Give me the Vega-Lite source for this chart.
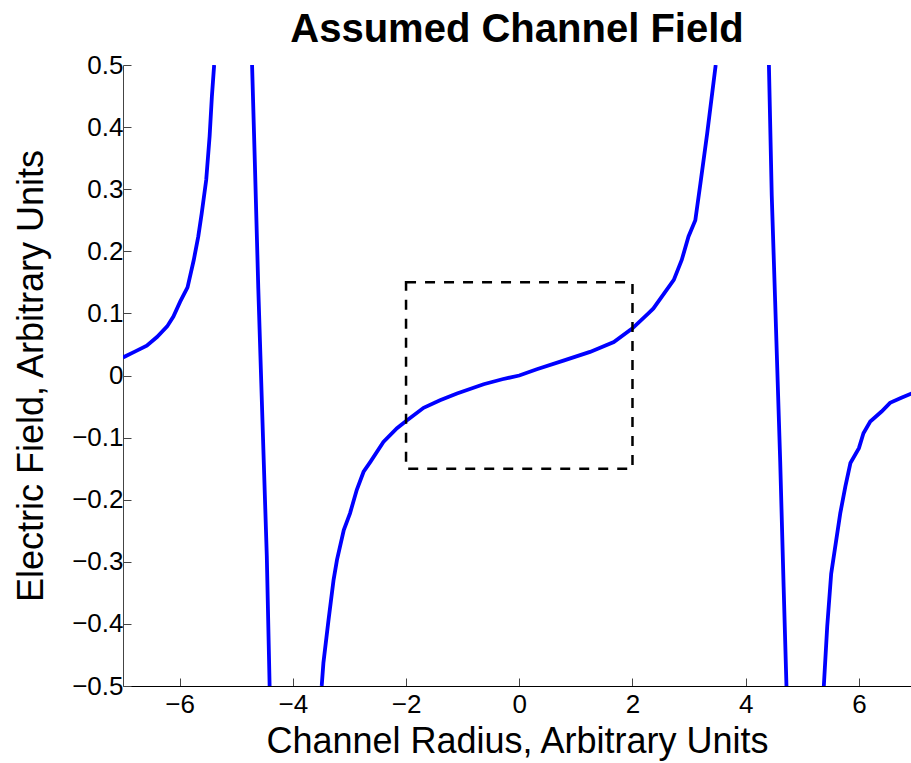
{
  "$schema": "https://vega.github.io/schema/vega-lite/v6.json",
  "autosize": "none",
  "padding": {"left": 123, "top": 65, "right": 0, "bottom": 77},
  "width": 788,
  "height": 621,
  "background": "white",
  "config": {
    "view": {"stroke": null},
    "font": "Liberation Sans",
    "axis": {"grid": false, "labelFont": "Liberation Sans", "titleFont": "Liberation Sans", "labelColor": "black", "titleColor": "black", "labelFontSize": 26, "titleFontSize": 36, "titleFontWeight": "normal", "tickColor": "#444", "tickSize": -8, "tickWidth": 1, "domainWidth": 1}
  },
  "title": {"text": "Assumed Channel Field", "font": "Liberation Sans", "fontSize": 40, "fontWeight": "bold", "color": "black", "anchor": "middle", "offset": 2},
  "layer": [
    {
      "data": {"values": [
        {"seg": "s1", "x": -7.00, "y": 0.029}, {"seg": "s1", "x": -6.80, "y": 0.038}, {"seg": "s1", "x": -6.58, "y": 0.048},
        {"seg": "s1", "x": -6.40, "y": 0.062}, {"seg": "s1", "x": -6.22, "y": 0.079}, {"seg": "s1", "x": -6.11, "y": 0.095},
        {"seg": "s1", "x": -5.99, "y": 0.119}, {"seg": "s1", "x": -5.86, "y": 0.142}, {"seg": "s1", "x": -5.75, "y": 0.186},
        {"seg": "s1", "x": -5.67, "y": 0.224}, {"seg": "s1", "x": -5.61, "y": 0.261}, {"seg": "s1", "x": -5.53, "y": 0.315},
        {"seg": "s1", "x": -5.47, "y": 0.385}, {"seg": "s1", "x": -5.43, "y": 0.449}, {"seg": "s1", "x": -5.39, "y": 0.5},
        {"seg": "s2", "x": -4.72, "y": 0.5}, {"seg": "s2", "x": -4.67, "y": 0.34}, {"seg": "s2", "x": -4.61, "y": 0.14},
        {"seg": "s2", "x": -4.52, "y": -0.12}, {"seg": "s2", "x": -4.46, "y": -0.29}, {"seg": "s2", "x": -4.41, "y": -0.5},
        {"seg": "s3", "x": -3.49, "y": -0.5}, {"seg": "s3", "x": -3.46, "y": -0.463}, {"seg": "s3", "x": -3.37, "y": -0.394},
        {"seg": "s3", "x": -3.28, "y": -0.329}, {"seg": "s3", "x": -3.22, "y": -0.297}, {"seg": "s3", "x": -3.10, "y": -0.249},
        {"seg": "s3", "x": -2.99, "y": -0.222}, {"seg": "s3", "x": -2.87, "y": -0.184}, {"seg": "s3", "x": -2.75, "y": -0.155},
        {"seg": "s3", "x": -2.63, "y": -0.139}, {"seg": "s3", "x": -2.40, "y": -0.107}, {"seg": "s3", "x": -2.16, "y": -0.085},
        {"seg": "s3", "x": -2.01, "y": -0.074}, {"seg": "s3", "x": -1.69, "y": -0.052}, {"seg": "s3", "x": -1.40, "y": -0.040},
        {"seg": "s3", "x": -1.10, "y": -0.029}, {"seg": "s3", "x": -0.63, "y": -0.014}, {"seg": "s3", "x": -0.30, "y": -0.006},
        {"seg": "s3", "x": 0.00, "y": 0.000}, {"seg": "s3", "x": 0.31, "y": 0.010}, {"seg": "s3", "x": 0.78, "y": 0.024},
        {"seg": "s3", "x": 1.25, "y": 0.038}, {"seg": "s3", "x": 1.67, "y": 0.054}, {"seg": "s3", "x": 2.00, "y": 0.076},
        {"seg": "s3", "x": 2.29, "y": 0.101}, {"seg": "s3", "x": 2.37, "y": 0.108}, {"seg": "s3", "x": 2.73, "y": 0.154},
        {"seg": "s3", "x": 2.87, "y": 0.186}, {"seg": "s3", "x": 2.99, "y": 0.224}, {"seg": "s3", "x": 3.11, "y": 0.250},
        {"seg": "s3", "x": 3.20, "y": 0.309}, {"seg": "s3", "x": 3.32, "y": 0.390}, {"seg": "s3", "x": 3.47, "y": 0.5},
        {"seg": "s4", "x": 4.41, "y": 0.5}, {"seg": "s4", "x": 4.46, "y": 0.29}, {"seg": "s4", "x": 4.52, "y": 0.12},
        {"seg": "s4", "x": 4.61, "y": -0.14}, {"seg": "s4", "x": 4.67, "y": -0.34}, {"seg": "s4", "x": 4.72, "y": -0.5},
        {"seg": "s5", "x": 5.38, "y": -0.5}, {"seg": "s5", "x": 5.44, "y": -0.404}, {"seg": "s5", "x": 5.51, "y": -0.319},
        {"seg": "s5", "x": 5.67, "y": -0.222}, {"seg": "s5", "x": 5.76, "y": -0.179}, {"seg": "s5", "x": 5.85, "y": -0.141},
        {"seg": "s5", "x": 6.00, "y": -0.117}, {"seg": "s5", "x": 6.08, "y": -0.093}, {"seg": "s5", "x": 6.20, "y": -0.074},
        {"seg": "s5", "x": 6.40, "y": -0.058}, {"seg": "s5", "x": 6.55, "y": -0.044}, {"seg": "s5", "x": 6.75, "y": -0.036},
        {"seg": "s5", "x": 6.93, "y": -0.029}, {"seg": "s5", "x": 7.00, "y": -0.027}
      ]},
      "mark": {"type": "line", "color": "#0000ff", "strokeWidth": 3.8, "clip": true},
      "encoding": {
        "x": {"field": "x", "type": "quantitative", "scale": {"domain": [-7, 6.92], "nice": false, "zero": false},
          "axis": {"values": [-6, -4, -2, 0, 2, 4, 6], "format": "d", "title": "Channel Radius, Arbitrary Units", "domainColor": "black", "labelPadding": 13, "titlePadding": 7}},
        "y": {"field": "y", "type": "quantitative", "scale": {"domain": [-0.5, 0.5], "nice": false, "zero": false},
          "axis": {"values": [-0.5, -0.4, -0.3, -0.2, -0.1, 0, 0.1, 0.2, 0.3, 0.4, 0.5], "format": ".1~f", "title": "Electric Field, Arbitrary Units", "domainColor": "#444", "labelPadding": 8, "titlePadding": 21}},
        "detail": {"field": "seg", "type": "nominal"}
      }
    },
    {
      "data": {"values": [{"x1": -2, "x2": 2, "y1": -0.15, "y2": 0.15}]},
      "mark": {"type": "rect", "filled": false, "fill": null, "stroke": "black", "strokeWidth": 2.5, "strokeDash": [10, 9]},
      "encoding": {
        "x": {"field": "x1", "type": "quantitative"},
        "x2": {"field": "x2"},
        "y": {"field": "y1", "type": "quantitative"},
        "y2": {"field": "y2"}
      }
    }
  ]
}
